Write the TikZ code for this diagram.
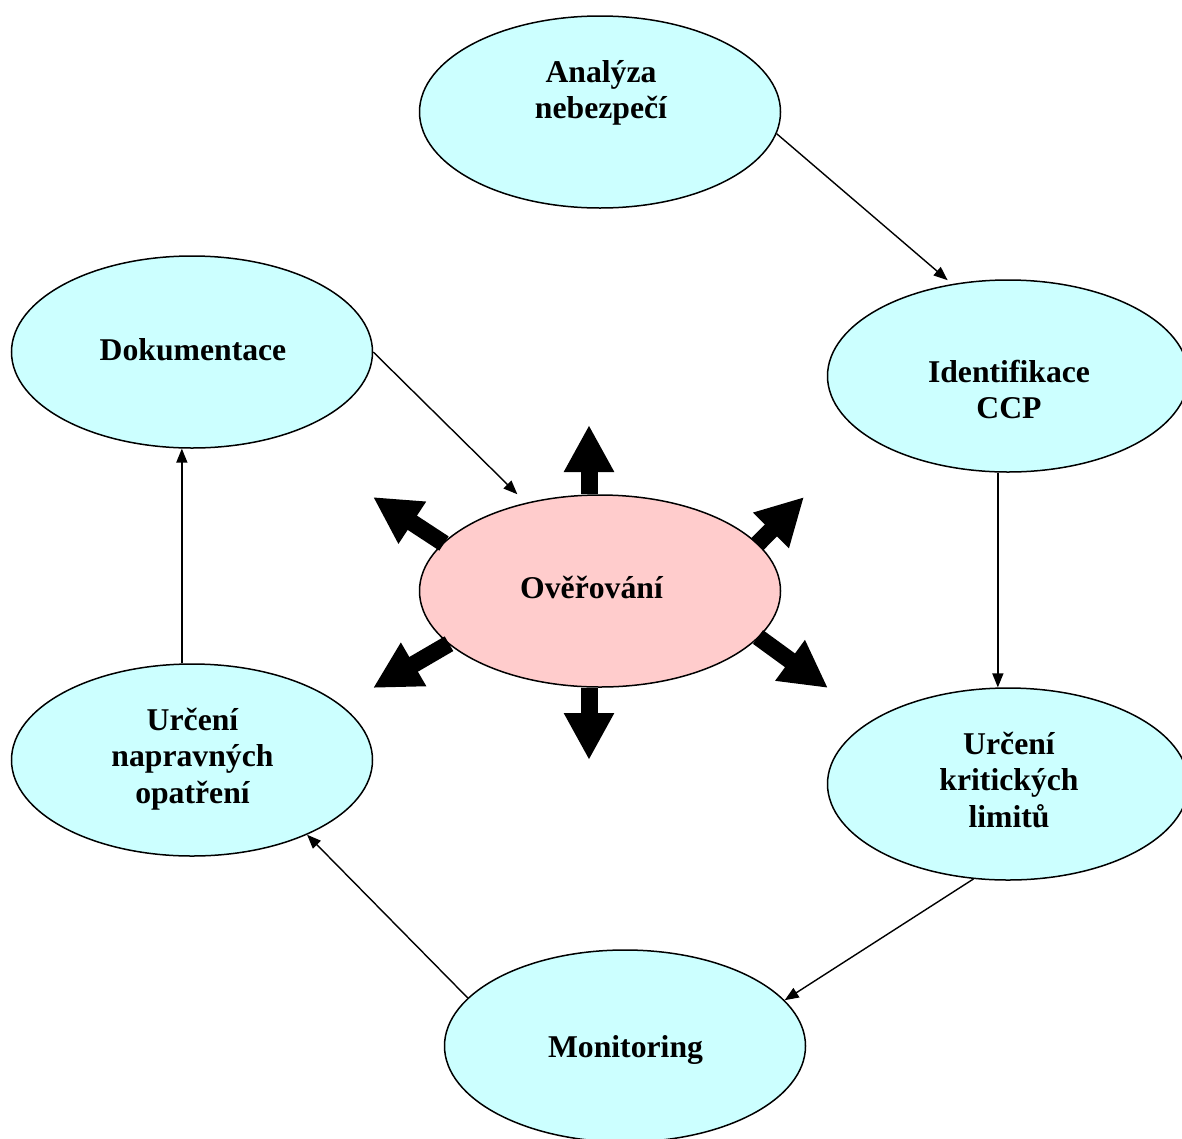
\documentclass[tikz,border=0pt]{standalone}
\usepackage{fontspec}
\setmainfont{Liberation Serif}
\usetikzlibrary{shapes.geometric,arrows.meta}
\definecolor{phasefill}{HTML}{CCFFFF}
\definecolor{verifyfill}{HTML}{FFCCCC}
% multi-line label whose baseline is that of its first line
\newcommand\cellstack[1]{\begin{tabular}[t]{@{}c@{}}#1\end{tabular}}
\tikzset{
  phase/.style={ellipse, draw, line width=1.5pt, fill=phasefill,
    minimum width=361pt, minimum height=192pt, inner sep=0pt},
  verify/.style={phase, fill=verifyfill},
  lbl/.style={anchor=base, inner sep=0pt,
    font=\bfseries\fontsize{31.7}{36.5}\selectfont},
  flow/.style={line width=1.4pt, -{Triangle[length=14pt,width=11pt]}},
  burst/.style={line width=17pt, -{Triangle[length=47pt,width=47pt]}},
}
\begin{document}
\begin{tikzpicture}[x=1pt,y=-1pt]
\useasboundingbox (0,0) rectangle (1182,1138);

% HACCP steps
\node[phase] (an) at (600,112) {};
\node[phase] (id) at (1008,376) {};
\node[phase] (kr) at (1008,784) {};
\node[phase] (mo) at (625,1046) {};
\node[phase] (na) at (192,760) {};
\node[phase] (do) at (192,352) {};
\node[verify] (ov) at (600,591) {};

\node[lbl] (anT) at (601,82) {\cellstack{Analýza\\nebezpečí}};
\node[lbl] (idT) at (1009,382) {\cellstack{Identifikace\\CCP}};
\node[lbl] (krT) at (1009,754) {\cellstack{Určení\\kritických\\limitů}};
\node[lbl] (moT) at (625.5,1057) {Monitoring};
\node[lbl] (naT) at (192.5,730) {\cellstack{Určení\\napravných\\opatření}};
\node[lbl] (doT) at (193,360) {Dokumentace};
\node[lbl] (ovT) at (591.5,598) {Ověřování};

% cycle of steps
\draw[flow] (an.-7.4) -- ([shift={(-3,-4)}]id.122);
\draw[flow] (id.-96.5) -- (kr.96.5);
\draw[flow] (kr.-110) -- (mo.16.7);
\draw[flow] (mo.163.1) -- (na.-33.6);
\draw[flow] (na.96.5) -- (do.-96.5);
\draw[flow, shorten >=12pt] (do.0) -- (ov.130.4);

% verification reaches every step
\coordinate (tU) at (589,425);
\coordinate (tD) at (589,760);
\coordinate (tUL) at (373,497);
\coordinate (tUR) at (804,497);
\coordinate (tLL) at (373,688);
\coordinate (tLR) at (828,688);
\coordinate (sUL) at (444,543.5);
\coordinate (sUR) at (757,544.5);
\coordinate (sLL) at (449,643.7);
\coordinate (sLR) at (758,637);
\draw[burst] (tU |- ov.north) -- (tU);
\draw[burst] (tD |- ov.south) -- (tD);
\draw[burst] (sUL) -- (tUL);
\draw[burst] (sUR) -- (tUR);
\draw[burst] (sLL) -- (tLL);
\draw[burst] (sLR) -- (tLR);
\end{tikzpicture}
\end{document}
